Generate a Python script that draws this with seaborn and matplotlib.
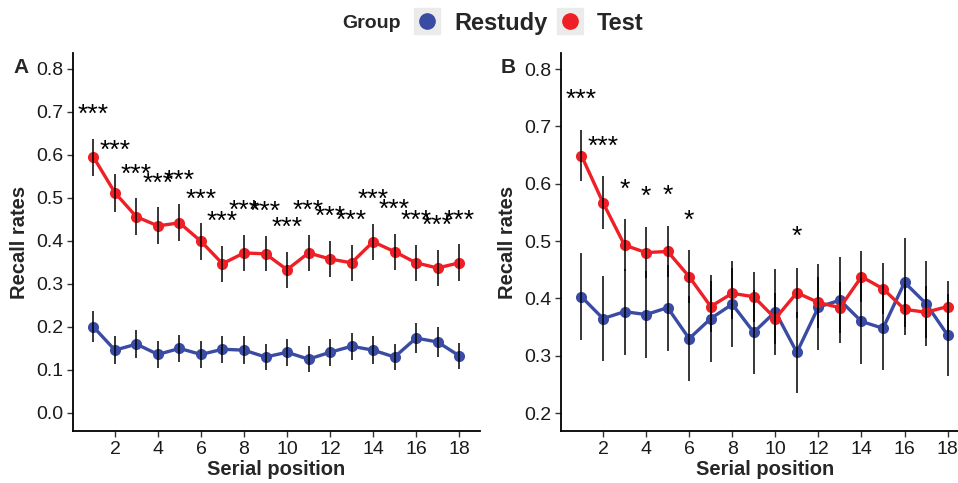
import matplotlib
matplotlib.use("Agg")
import matplotlib.pyplot as plt
from matplotlib.lines import Line2D
import numpy as np
import pandas as pd
import seaborn as sns

# ---------------- data ----------------
positions = list(range(1, 19))
groups = ["Restudy", "Test"]
xticks = [2, 4, 6, 8, 10, 12, 14, 16, 18]

a_restudy = [0.200, 0.146, 0.160, 0.136, 0.150, 0.136, 0.148, 0.146, 0.130,
             0.141, 0.125, 0.141, 0.155, 0.146, 0.130, 0.174, 0.165, 0.133]
a_restudy_se = [0.036, 0.032, 0.033, 0.031, 0.032, 0.031, 0.032, 0.032, 0.030,
                0.031, 0.030, 0.031, 0.032, 0.032, 0.030, 0.035, 0.034, 0.030]
a_test = [0.595, 0.512, 0.456, 0.435, 0.442, 0.399, 0.347, 0.372, 0.370,
          0.333, 0.372, 0.358, 0.349, 0.398, 0.375, 0.349, 0.337, 0.349]
a_test_se = [0.043, 0.044, 0.043, 0.043, 0.043, 0.043, 0.042, 0.042, 0.041,
             0.042, 0.042, 0.042, 0.042, 0.042, 0.042, 0.042, 0.043, 0.043]
a_sig = ["***"] * 18
a_yticks = [0.0, 0.1, 0.2, 0.3, 0.4, 0.5, 0.6, 0.7, 0.8]

b_restudy = [0.403, 0.365, 0.377, 0.372, 0.384, 0.330, 0.365, 0.390, 0.341,
             0.377, 0.306, 0.385, 0.397, 0.360, 0.348, 0.428, 0.391, 0.336]
b_restudy_se = [0.076, 0.074, 0.075, 0.076, 0.075, 0.074, 0.076, 0.075, 0.073,
                0.075, 0.071, 0.075, 0.075, 0.075, 0.073, 0.077, 0.074, 0.072]
b_test = [0.649, 0.567, 0.493, 0.480, 0.482, 0.438, 0.386, 0.409, 0.403,
          0.365, 0.410, 0.393, 0.384, 0.438, 0.417, 0.381, 0.376, 0.386]
b_test_se = [0.044, 0.046, 0.045, 0.045, 0.045, 0.046, 0.045, 0.045, 0.044,
             0.045, 0.044, 0.045, 0.045, 0.044, 0.044, 0.045, 0.045, 0.044]
b_sig = ["***", "***", "*", "*", "*", "*", "", "", "", "", "*", "", "", "", "", "", "", ""]
b_yticks = [0.2, 0.3, 0.4, 0.5, 0.6, 0.7, 0.8]

# ---------------- style ----------------
sns.set_style("white")
plt.rcParams["font.family"] = ["Liberation Sans", "DejaVu Sans"]

BLUE = "#3A4BA3"
RED = "#EE1F25"
palette = {"Restudy": BLUE, "Test": RED}

fig = plt.figure(figsize=(9.58, 4.83), dpi=100)

def panel(rect, restudy, restudy_se, test, test_se, sig, yticks, ylim, letter):
    ax = fig.add_axes(rect)
    df = pd.DataFrame({
        "Serial position": positions * 2,
        "Recall rates": restudy + test,
        "Group": [groups[0]] * len(positions) + [groups[1]] * len(positions),
    })
    sns.lineplot(data=df, x="Serial position", y="Recall rates", hue="Group",
                 palette=palette, marker="o", markersize=8, markeredgewidth=0,
                 linewidth=2.4, errorbar=None, legend=False, ax=ax, zorder=3)
    ax.errorbar(positions, restudy, yerr=restudy_se, fmt="none",
                ecolor="black", elinewidth=1.1, capsize=0, zorder=5)
    ax.errorbar(positions, test, yerr=test_se, fmt="none",
                ecolor="black", elinewidth=1.1, capsize=0, zorder=5)
    for p, v, s in zip(positions, test, sig):
        if s:
            ax.text(p, v + 0.097, s, ha="center", va="center", fontsize=19,
                    color="black", zorder=6)
    ax.set_xlim(0.05, 18.97)
    ax.set_ylim(*ylim)
    ax.set_xticks(xticks)
    ax.set_yticks(yticks)
    ax.set_yticklabels([f"{t:.1f}" for t in yticks])
    for sp in ["top", "right"]:
        ax.spines[sp].set_visible(False)
    for sp in ["left", "bottom"]:
        ax.spines[sp].set_color("black")
        ax.spines[sp].set_linewidth(1.3)
    ax.tick_params(axis="both", which="both", length=4, width=1,
                   color="#333333", labelsize=14, labelcolor="#1a1a1a",
                   direction="out", left=True, bottom=True, pad=3)
    ax.set_xlabel("Serial position", fontsize=14.5, fontweight="bold", labelpad=2)
    ax.set_ylabel("Recall rates", fontsize=14.5, fontweight="bold", labelpad=5)
    ax.text(-0.147, 0.962, letter, transform=ax.transAxes, fontsize=15,
            fontweight="bold", ha="left", va="center")
    ax.grid(False)
    return ax

panel([0.0762, 0.1077, 0.4248, 0.7826], a_restudy, a_restudy_se, a_test, a_test_se,
      a_sig, a_yticks, (-0.042, 0.837), "A")
panel([0.5856, 0.1077, 0.4254, 0.7826], b_restudy, b_restudy_se, b_test, b_test_se,
      b_sig, b_yticks, (0.169, 0.828), "B")

# ---------------- legend ----------------
key_bg = "#EBEBEB"
handles = [
    (Line2D([], [], marker="s", ms=19, color=key_bg, ls=""),
     Line2D([], [], marker="o", ms=11, color=BLUE, ls="")),
    (Line2D([], [], marker="s", ms=19, color=key_bg, ls=""),
     Line2D([], [], marker="o", ms=11, color=RED, ls="")),
]
fig.legend(handles, groups, loc="center", bbox_to_anchor=(0.551, 0.952), ncol=2,
           frameon=False, prop={"size": 17, "weight": "bold"},
           handlelength=1.3, handletextpad=0.5, columnspacing=0.3)
fig.text(0.357, 0.952, "Group", fontsize=14, fontweight="bold", ha="left", va="center")

fig.savefig("out.png", dpi=100)
